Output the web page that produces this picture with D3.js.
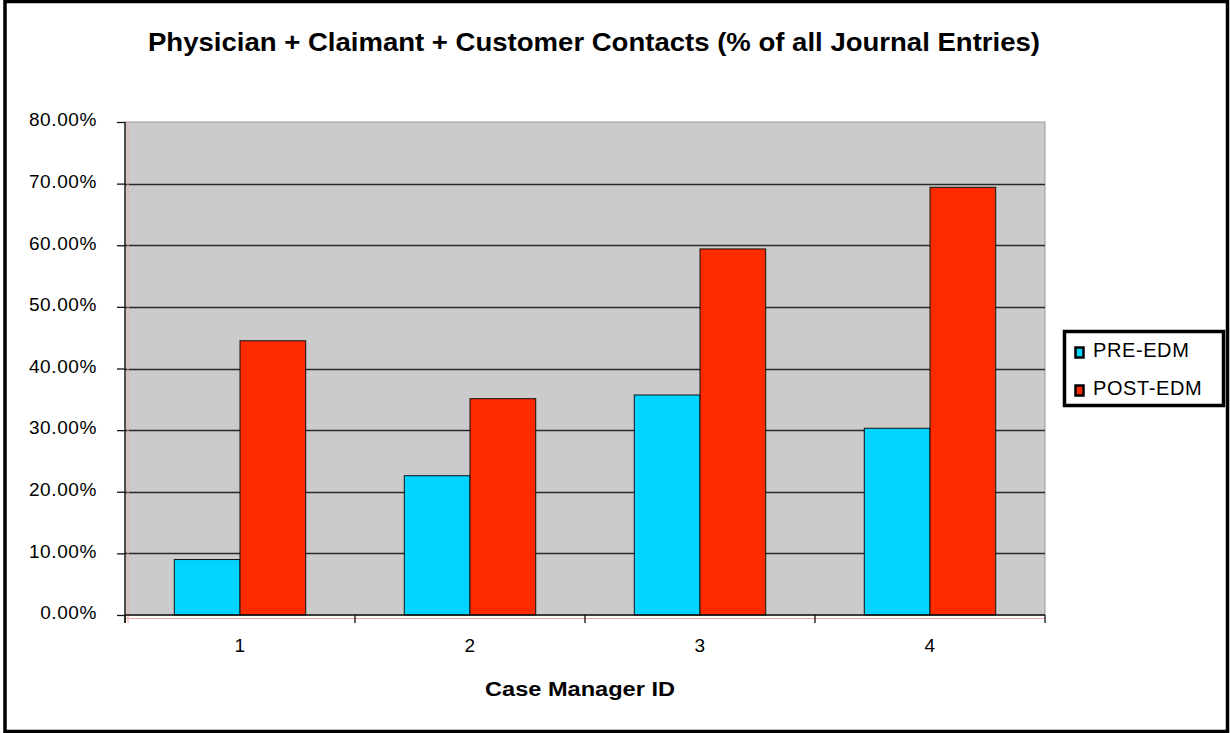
<!DOCTYPE html>
<html lang="en">
<head>
  <meta charset="UTF-8" />
  <title>Physician + Claimant + Customer Contacts</title>
  <script src="https://d3js.org/d3.v7.min.js"></script>
  <style>
    body {
      margin: 0;
      padding: 0;
      background: #fff;
    }
    svg text {
      font-family: Arial, "Liberation Sans", sans-serif;
      fill: #000;
    }
    .tick-label {
      font-size: 19px;
      letter-spacing: 0.6px;
    }
    .legend-label {
      font-size: 20px;
      letter-spacing: 0.6px;
    }
  </style>
</head>
<body>
  <svg width="1230" height="733"></svg>
  <script>
    // chart data
    const categories = ["1", "2", "3", "4"];
    const seriesNames = ["PRE-EDM", "POST-EDM"];
    const preEdm = [9.0, 22.6, 35.7, 30.3];
    const postEdm = [44.5, 35.1, 59.4, 69.4];
    const yTicks = [0, 10, 20, 30, 40, 50, 60, 70, 80];
    const colors = ["#00d4ff", "#ff2a00"];

    const svg = d3.select("svg");
    const plot = { left: 125, right: 1045, top: 122, bottom: 615 };

    // outer frame
    svg.append("rect")
      .attr("x", 5).attr("y", 1.5)
      .attr("width", 1222.5).attr("height", 730)
      .attr("fill", "none")
      .attr("stroke", "#000")
      .attr("stroke-width", 3.5);

    svg.append("text")
      .attr("x", 148)
      .attr("y", 51)
      .attr("textLength", 892)
      .attr("lengthAdjust", "spacingAndGlyphs")
      .style("font-size", "25px")
      .style("font-weight", "bold")
      .text("Physician + Claimant + Customer Contacts (% of all Journal Entries)");

    const x0 = d3.scaleBand()
      .domain(categories)
      .range([plot.left, plot.right])
      .padding(0);

    const x1 = d3.scaleBand()
      .domain(seriesNames)
      .range([0, x0.bandwidth()])
      .paddingInner(0)
      .paddingOuter(0.75);

    const y = d3.scaleLinear()
      .domain([0, 80])
      .range([plot.bottom, plot.top]);

    // plot background
    svg.append("rect")
      .attr("x", plot.left).attr("y", plot.top)
      .attr("width", plot.right - plot.left)
      .attr("height", plot.bottom - plot.top)
      .attr("fill", "#cbcbcb")
      .attr("stroke", "#9a9a9a")
      .attr("stroke-width", 1);

    // gridlines
    svg.append("g")
      .selectAll("line")
      .data(yTicks.filter(d => d > 0 && d < 80))
      .join("line")
      .attr("x1", plot.left).attr("x2", plot.right)
      .attr("y1", d => Math.round(y(d)) + 0.5)
      .attr("y2", d => Math.round(y(d)) + 0.5)
      .attr("stroke", "#2a2a2a")
      .attr("stroke-width", 1.3);

    // bars
    const rows = categories.map((c, i) => ({ cat: c, values: [preEdm[i], postEdm[i]] }));
    svg.append("g")
      .selectAll("g")
      .data(rows)
      .join("g")
      .attr("transform", d => `translate(${x0(d.cat)},0)`)
      .selectAll("rect")
      .data(d => d.values.map((v, j) => ({ name: seriesNames[j], value: v, color: colors[j] })))
      .join("rect")
      .attr("x", d => x1(d.name))
      .attr("y", d => y(d.value))
      .attr("width", x1.bandwidth())
      .attr("height", d => y(0) - y(d.value))
      .attr("fill", d => d.color)
      .attr("stroke", "#111")
      .attr("stroke-width", 1);

    // faint pink trace lines next to the axes
    svg.append("line")
      .attr("x1", plot.left + 3).attr("x2", plot.left + 3)
      .attr("y1", plot.top).attr("y2", plot.bottom + 8)
      .attr("stroke", "#f2aaa0").attr("stroke-width", 1);
    svg.append("line")
      .attr("x1", plot.left).attr("x2", plot.right)
      .attr("y1", plot.bottom + 3.5).attr("y2", plot.bottom + 3.5)
      .attr("stroke", "#f2aaa0").attr("stroke-width", 1);

    // y axis
    const yAxis = svg.append("g")
      .attr("transform", `translate(${plot.left},0)`)
      .call(d3.axisLeft(y)
        .tickValues(yTicks)
        .tickSize(8)
        .tickPadding(20)
        .tickFormat(d => d3.format(".2f")(d) + "%"));
    yAxis.select(".domain")
      .attr("d", `M0,${plot.top}V${plot.bottom + 8}`)
      .attr("stroke", "#111").attr("stroke-width", 1.3);
    yAxis.selectAll(".tick line").attr("stroke", "#111").attr("stroke-width", 1.3);
    yAxis.selectAll(".tick text")
      .attr("class", "tick-label")
      .attr("dy", "0.2em")
      .attr("font-family", null)
      .attr("font-size", null);

    // x axis
    const xAxis = svg.append("g")
      .attr("transform", `translate(0,${plot.bottom})`)
      .call(d3.axisBottom(x0).tickSize(0).tickPadding(24));
    xAxis.select(".domain")
      .attr("d", `M${plot.left},0H${plot.right}`)
      .attr("stroke", "#111").attr("stroke-width", 1.5);
    xAxis.selectAll(".tick text")
      .attr("class", "tick-label")
      .attr("font-family", null)
      .attr("font-size", null);

    // category boundary ticks
    const bounds = categories.map(c => x0(c)).concat([x0(categories[categories.length - 1]) + x0.bandwidth()]);
    svg.append("g")
      .selectAll("line")
      .data(bounds)
      .join("line")
      .attr("x1", d => d).attr("x2", d => d)
      .attr("y1", plot.bottom).attr("y2", plot.bottom + 8)
      .attr("stroke", "#111").attr("stroke-width", 1.3);

    svg.append("text")
      .attr("x", 485)
      .attr("y", 696)
      .attr("textLength", 190)
      .attr("lengthAdjust", "spacingAndGlyphs")
      .style("font-size", "20px")
      .style("font-weight", "bold")
      .text("Case Manager ID");

    // legend
    const legend = svg.append("g");
    legend.append("rect")
      .attr("x", 1064.5).attr("y", 331.5)
      .attr("width", 159).attr("height", 74)
      .attr("fill", "#fff")
      .attr("stroke", "#000")
      .attr("stroke-width", 3.5);

    const items = legend.selectAll("g.item")
      .data(seriesNames)
      .join("g")
      .attr("class", "item")
      .attr("transform", (d, i) => `translate(1075,${347 + i * 38})`);
    items.append("rect")
      .attr("x", 0.5).attr("y", 0.5)
      .attr("width", 8).attr("height", 10)
      .attr("fill", (d, i) => colors[i])
      .attr("stroke", "#000")
      .attr("stroke-width", 2.5);
    items.append("text")
      .attr("class", "legend-label")
      .attr("x", 18)
      .attr("y", 10)
      .text(d => d);
  </script>
</body>
</html>
